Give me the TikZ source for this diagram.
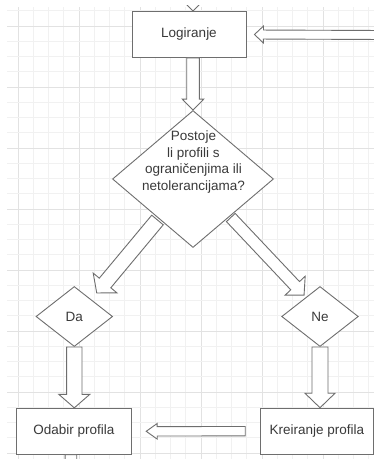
\documentclass[tikz,border=0pt]{standalone}
\usepackage{fontspec}
\setmainfont{Liberation Sans}
\usetikzlibrary{calc,shapes.geometric}
\definecolor{gridminor}{HTML}{F1F1F1}
\definecolor{gridmajor}{HTML}{E2E2E2}
\definecolor{edgegray}{HTML}{6E6E6E}
\definecolor{textgray}{HTML}{3A3A3A}
\tikzset{
  boxnode/.style={draw=edgegray, fill=white, line width=0.9pt, rectangle,
    minimum width=114pt, minimum height=46pt, inner sep=0pt, text=textgray,
    font=\fontsize{13.5}{16.7}\selectfont},
  decnode/.style={draw=edgegray, fill=white, line width=0.9pt, diamond,
    inner sep=0pt, text=textgray, font=\fontsize{13.5}{16.7}\selectfont},
  labelnode/.style={text=textgray, font=\fontsize{13.5}{16.7}\selectfont,
    align=center, inner sep=0pt},
  bkarrow/.style={draw=edgegray, fill=white, line width=0.9pt, line join=miter},
  gridminorline/.style={draw=gridminor, line width=0.8pt},
  gridmajorline/.style={draw=gridmajor, line width=0.9pt},
}
% hollow block arrow: [options]{from}{to}{half shaft}{half head}{head length}
\newcommand\blockarrow[6][]{%
  \path let \p1=(#2), \p2=(#3) in \pgfextra{%
    \pgfmathsetmacro\bkang{atan2(\y2-\y1,\x2-\x1)}%
    \pgfmathsetmacro\bklen{veclen(\x2-\x1,\y2-\y1)}%
    \xdef\bkx{\x1}\xdef\bky{\y1}\xdef\bkA{\bkang}\xdef\bkL{\bklen}};
  \draw[bkarrow,#1,shift={(\bkx,\bky)},rotate=\bkA]
    (0,-#4) -- ({\bkL-#6},-#4) -- ({\bkL-#6},-#5) -- (\bkL,0)
    -- ({\bkL-#6},#5) -- ({\bkL-#6},#4) -- (0,#4) -- cycle;
}
\begin{document}
\begin{tikzpicture}[x=1pt,y=-1pt]
\useasboundingbox (0,0) rectangle (374,459);
\fill[white] (0,0) rectangle (374,459);
\clip (0,0) rectangle (374,459);
% grid
\foreach \i in {0,...,23} {
  \pgfmathtruncatemacro\gm{mod(\i,4)}
  \ifnum\gm=0
    \draw[gridmajorline] ({18+15.25*\i},7) -- ({18+15.25*\i},459);
  \else
    \draw[gridminorline] ({18+15.25*\i},7) -- ({18+15.25*\i},459);
  \fi
}
\foreach \j in {0,...,29} {
  \pgfmathtruncatemacro\gm{mod(\j,4)}
  \ifnum\gm=1
    \draw[gridmajorline] (7,{10.75+15.25*\j}) -- (374,{10.75+15.25*\j});
  \else
    \draw[gridminorline] (7,{10.75+15.25*\j}) -- (374,{10.75+15.25*\j});
  \fi
}
% nodes
\node[boxnode] (log) at (189,34.5) {Logiranje};
\node[decnode, minimum width=161pt, minimum height=137pt] (q) at (193,179) {};
\node[labelnode] (qt) at (193.5,162) {Postoje\\li profili s\\ograničenjima ili\\netolerancijama?};
\node[decnode, minimum width=76.6pt, minimum height=60pt] (da) at (74.3,316.5) {Da};
\node[decnode, minimum width=76.6pt, minimum height=60pt] (ne) at (320,316.5) {Ne};
\node[boxnode, minimum width=114.3pt] (od) at (73.9,431.3) {Odabir profila};
\node[boxnode, minimum width=113pt] (kre) at (316.8,431.2) {Kreiranje profila};
% connector end points
\coordinate (rin) at (385,35);
\coordinate (topin) at (193,-30);
\coordinate (botout) at (70.9,520);
\coordinate (qdl) at (157.5,220);
\coordinate (datip) at (96.7,293);
\coordinate (qdr) at (230.8,217.5);
\coordinate (netip) at (304.2,295.3);
% connectors
\begin{scope}
  \clip (0,5) rectangle (374,459);
  \blockarrow{topin}{q.north |- log.north}{6}{11}{11}
\end{scope}
\blockarrow{rin}{[xshift=8pt]log.east}{4.5}{8.5}{9}
\blockarrow{q.north |- log.south}{q.north}{6.3}{10.8}{11}
\blockarrow{qdl}{datip}{7.5}{15.4}{13}
\blockarrow{qdr}{netip}{6}{13.8}{13}
\blockarrow{da.south}{da.south |- od.north}{7.7}{15.5}{13.5}
\blockarrow{ne.south}{ne.south |- kre.north}{8}{15}{14.5}
\blockarrow{[xshift=-14.6pt]kre.west}{[xshift=14.7pt]od.east}{4.7}{7.8}{11}
\blockarrow{od.south -| botout}{botout}{5.8}{10}{11}
\end{tikzpicture}
\end{document}
